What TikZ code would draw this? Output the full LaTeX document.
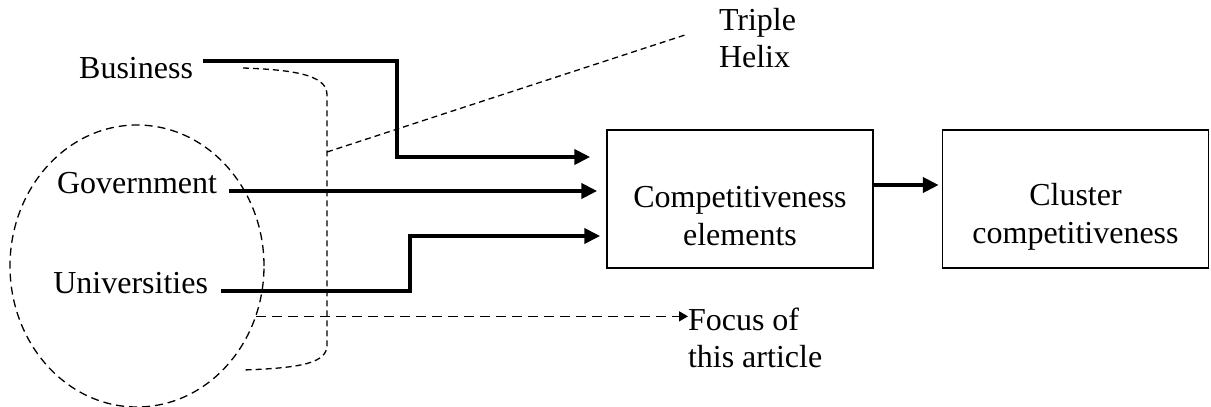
\documentclass[tikz,border=0pt]{standalone}
\usepackage{fontspec}
\setmainfont{Liberation Serif}
\usetikzlibrary{arrows.meta,shapes.geometric}
\begin{document}
\begin{tikzpicture}[x=0.5pt,y=-0.5pt,
  lbl/.style={inner sep=0pt, outer sep=0pt, font=\fontsize{16}{18.5}\selectfont},
  box/.style={draw, line width=0.75pt, minimum width=133pt, minimum height=69pt,
    inner sep=0pt},
  boxtext/.style={align=center, inner sep=0pt, font=\fontsize{16}{19}\selectfont},
  flow/.style={line width=2pt, -{Triangle[length=8pt,width=7.5pt]}},
  helix/.style={line width=0.65pt, dash pattern=on 3pt off 2pt},
  group/.style={ellipse, draw, line width=0.65pt, dash pattern=on 4pt off 2.5pt,
    minimum width=127pt, minimum height=141pt, inner sep=0pt, outer sep=0pt},
  focusline/.style={line width=0.75pt, dash pattern=on 5pt off 3pt,
    -{Triangle[length=4.5pt,width=5pt]}}
]
\useasboundingbox (0,0) rectangle (1211,407);

% actors
\node[lbl, anchor=base east] (bus) at (193,78) {Business};
\node[lbl, anchor=base east] (gov) at (217,193) {Government};
\node[lbl, anchor=base east] (uni) at (208,293) {Universities};

% outcome boxes, with their texts set a little below centre
\node[box] (b1) at (740,199) {};
\node[box] (b2) at (1075.5,199) {};
\node[boxtext, anchor=base] (b1t) at (740,245) {Competitiveness\\elements};
\node[boxtext, anchor=base] (b2t) at (1075.5,243) {Cluster\\competitiveness};

% annotations (base = baseline of the last line)
\node[lbl, anchor=base west, align=left] (th) at (719,68) {Triple\\Helix};
\node[lbl, anchor=base west, align=left] (focus) at (688,367) {Focus of\\this article};

% university circle
\node[group] (grp) at (137,266) {};

% helix bracket
\coordinate (bt) at (243,68);
\coordinate (bb) at (243,370);
\coordinate (hx) at (327,152);
\draw[helix] (bt) .. controls (305,70) and (327,78) .. (327,95)
  -- (327,345) .. controls (327,362) and (305,368) .. (bb);
\draw[helix] (hx) -- (688,34);

% flows into the competitiveness elements
\coordinate (bus0) at (203,61);
\coordinate (gov0) at (229,191);
\coordinate (uni0) at (221,291);
\draw[flow] (bus0) -- (397,61) -- (397,157) -- ([xshift=-8pt]b1.west |- 0,157);
\draw[flow] (gov0) -- ([xshift=-4.5pt]b1.west |- 0,191);
\draw[flow] (uni0) -- (410,291) -- (410,236) -- ([xshift=-3pt]b1.west |- 0,236);
\draw[flow] ([yshift=7pt]b1.east) -- ([yshift=7pt,xshift=-1.5pt]b2.west);

% focus arrow
\draw[focusline] (grp.-23) -- (grp.-23 -| focus.west);
\end{tikzpicture}
\end{document}
